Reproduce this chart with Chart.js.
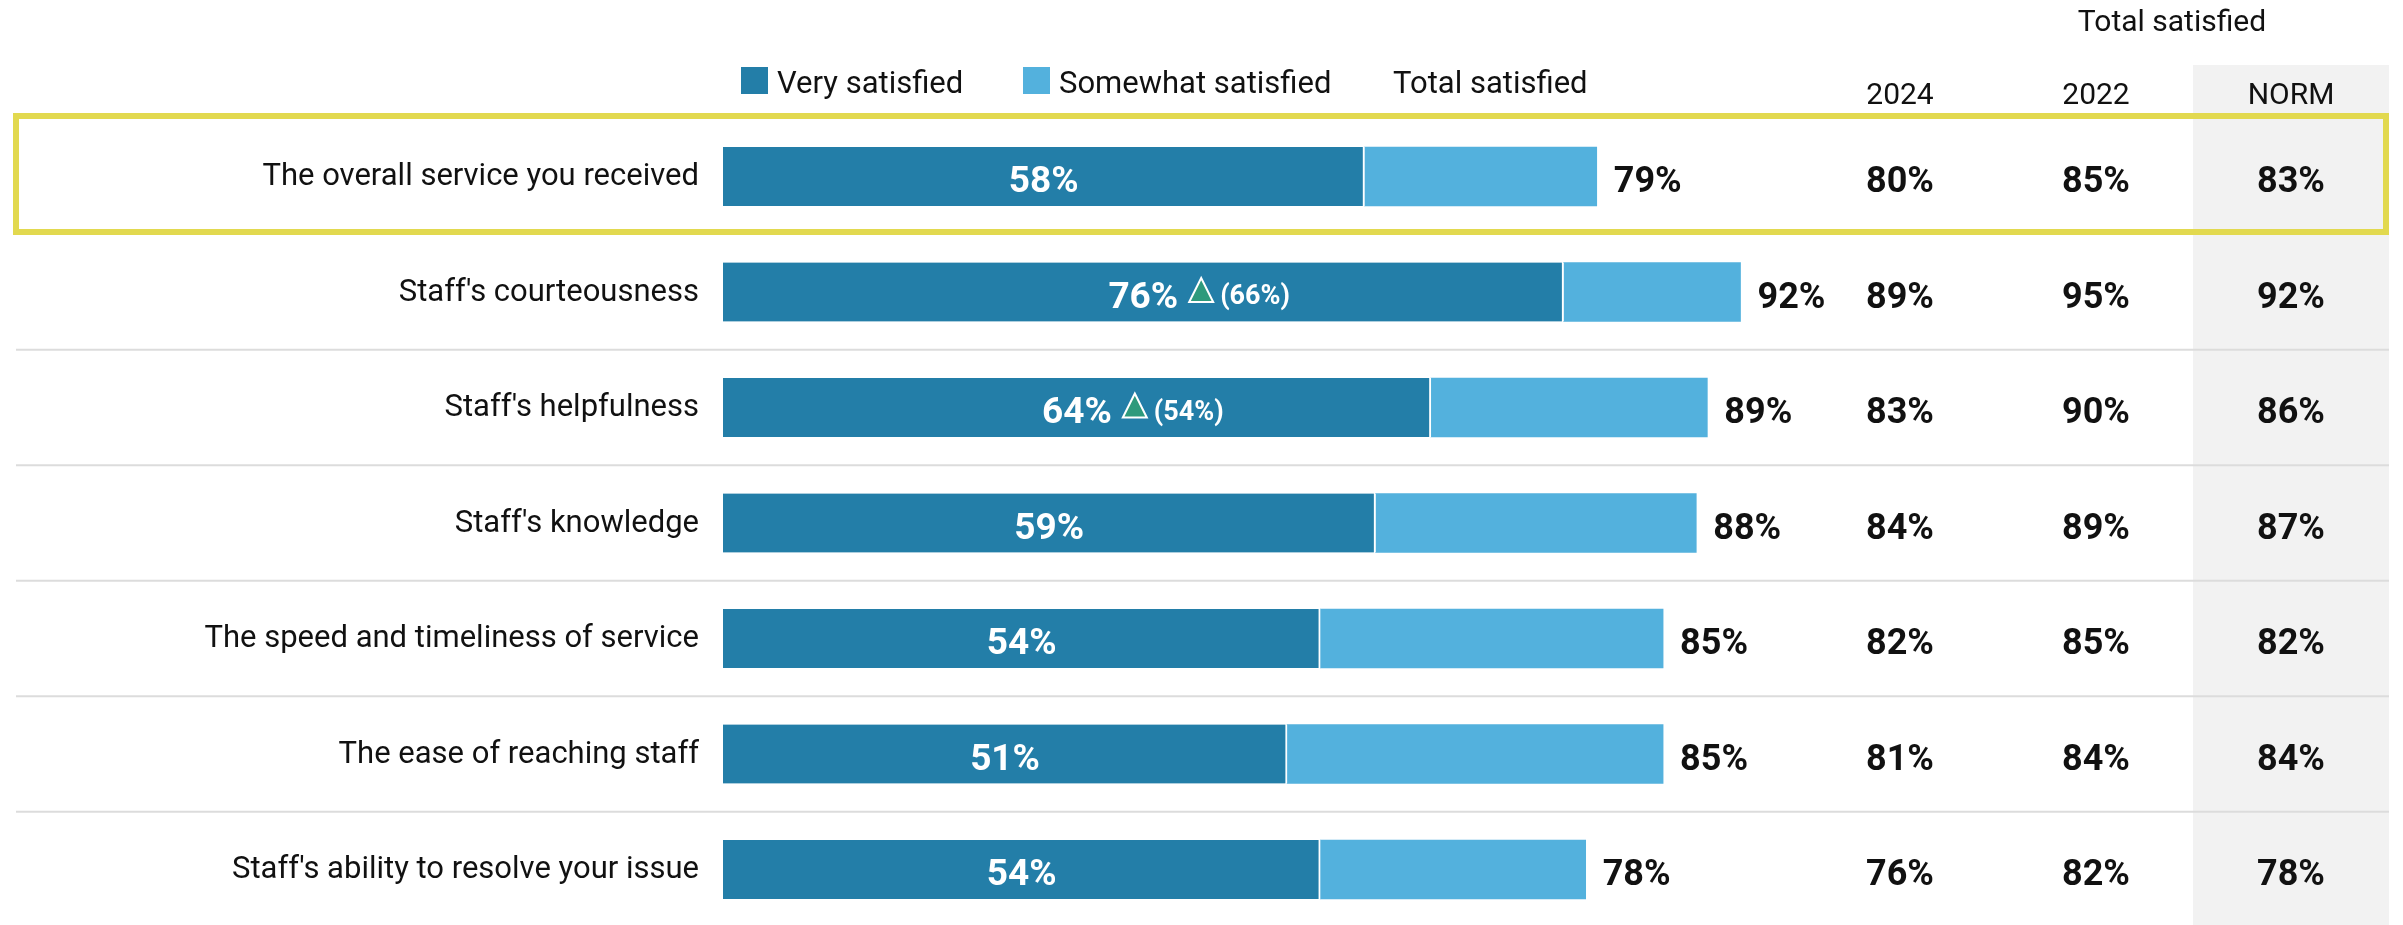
<!DOCTYPE html>
<html>
<head>
<meta charset="utf-8">
<title>Satisfaction with staff service</title>
<script src="https://cdn.jsdelivr.net/npm/chart.js@4/dist/chart.umd.min.js"></script>
<style>
  html, body { margin: 0; padding: 0; background: #fff; }
  #wrap { width: 2403px; height: 925px; position: relative; }
</style>
</head>
<body>
<div id="wrap"><canvas id="satChart"></canvas></div>
<script>
const categories = [
    "The overall service you received",
    "Staff's courteousness",
    "Staff's helpfulness",
    "Staff's knowledge",
    "The speed and timeliness of service",
    "The ease of reaching staff",
    "Staff's ability to resolve your issue"
];
const verySatisfied = [58, 76, 64, 59, 54, 51, 54];
const totalSatisfied = [79, 92, 89, 88, 85, 85, 78];
// earlier wave for the significance marker, only where it applies
const previousVery = [null, 66, 54, null, null, null, null];
const total2024 = [80, 89, 83, 84, 82, 81, 76];
const total2022 = [85, 95, 90, 89, 85, 84, 82];
const normValues = [83, 92, 86, 87, 82, 84, 78];
const columnHeaders = ["2024", "2022", "NORM"];

const somewhatSatisfied = totalSatisfied.map((t, i) => t - verySatisfied[i]);

const DARK = "#237ea8";
const LIGHT = "#53b1dd";
const FONT = "Roboto, 'Noto Sans', sans-serif";

const tablePlugin = {
    id: "tablePlugin",
    beforeDraw(chart) {
        const ctx = chart.ctx;
        const y = chart.scales.y;
        ctx.save();
        // shaded NORM column
        ctx.fillStyle = "#f2f2f2";
        ctx.fillRect(2193, 65, 196, 860);
        // row separators
        ctx.strokeStyle = "#dcdcdc";
        ctx.lineWidth = 2;
        for (let i = 1; i < categories.length - 1; i++) {
            const mid = (y.getPixelForValue(i) + y.getPixelForValue(i + 1)) / 2;
            ctx.beginPath();
            ctx.moveTo(16, mid);
            ctx.lineTo(2389, mid);
            ctx.stroke();
        }
        ctx.restore();
    },
    afterDatasetsDraw(chart) {
        const ctx = chart.ctx;
        const x = chart.scales.x;
        const y = chart.scales.y;
        ctx.save();

        // legend
        ctx.font = "31px " + FONT;
        ctx.textBaseline = "alphabetic";
        ctx.textAlign = "left";
        ctx.fillStyle = DARK;
        ctx.fillRect(741, 67, 27, 27);
        ctx.fillStyle = LIGHT;
        ctx.fillRect(1023, 67, 27, 27);
        ctx.fillStyle = "#111";
        ctx.fillText("Very satisfied", 777, 93);
        ctx.fillText("Somewhat satisfied", 1059, 93);
        ctx.fillText("Total satisfied", 1393, 93);

        // column headers
        const colX = [1900, 2096, 2291];
        ctx.font = "30px " + FONT;
        ctx.textAlign = "center";
        ctx.fillText("Total satisfied", 2172, 31);
        columnHeaders.forEach((h, k) => ctx.fillText(h, colX[k], 104));

        categories.forEach((label, i) => {
            const cy = y.getPixelForValue(i);

            // category label
            ctx.font = "31px " + FONT;
            ctx.fillStyle = "#111";
            ctx.textAlign = "right";
            ctx.fillText(label, 699, cy + 8.5);

            // very satisfied value inside the dark segment
            const darkMid = (x.getPixelForValue(0) + x.getPixelForValue(verySatisfied[i])) / 2;
            ctx.font = "bold 37px " + FONT;
            ctx.fillStyle = "#fff";
            ctx.textAlign = "center";
            const txt = verySatisfied[i] + "%";
            ctx.fillText(txt, darkMid, cy + 15.5);

            if (previousVery[i] !== null) {
                const tw = ctx.measureText(txt).width;
                const tx = darkMid + tw / 2 + 11;
                ctx.beginPath();
                ctx.moveTo(tx + 12, cy - 14);
                ctx.lineTo(tx + 24, cy + 10);
                ctx.lineTo(tx, cy + 10);
                ctx.closePath();
                ctx.fillStyle = "#2e9a7c";
                ctx.fill();
                ctx.strokeStyle = "#fff";
                ctx.lineWidth = 2;
                ctx.stroke();
                ctx.font = "bold 27px " + FONT;
                ctx.fillStyle = "#fff";
                ctx.textAlign = "left";
                ctx.fillText("(" + previousVery[i] + "%)", tx + 31, cy + 12);
            }

            // total at bar end
            ctx.font = "bold 36px " + FONT;
            ctx.fillStyle = "#111";
            ctx.textAlign = "left";
            ctx.fillText(totalSatisfied[i] + "%", x.getPixelForValue(totalSatisfied[i]) + 17, cy + 15.5);

            // trend and norm columns
            ctx.textAlign = "center";
            [total2024, total2022, normValues].forEach((arr, k) => {
                ctx.fillText(arr[i] + "%", colX[k], cy + 15.5);
            });
        });

        // highlight frame around the first row
        const r0 = y.getPixelForValue(0);
        ctx.strokeStyle = "#e2d94f";
        ctx.lineWidth = 6;
        ctx.strokeRect(16, r0 - 60.5, 2370, 116);
        ctx.restore();
    }
};

const ctx = document.getElementById("satChart").getContext("2d");
new Chart(ctx, {
    type: "bar",
    data: {
        labels: categories,
        datasets: [
            {
                label: "Very satisfied",
                data: verySatisfied,
                backgroundColor: DARK,
                borderColor: "#ffffff",
                borderWidth: { top: 0, right: 2, bottom: 0, left: 0 },
                borderSkipped: false,
                barThickness: 59,
                clip: false
            },
            {
                label: "Somewhat satisfied",
                data: somewhatSatisfied,
                backgroundColor: LIGHT,
                borderWidth: 0,
                barThickness: 59,
                clip: false
            }
        ]
    },
    options: {
        indexAxis: "y",
        responsive: true,
        maintainAspectRatio: false,
        animation: false,
        layout: { padding: { left: 723, right: 574, top: 176.5, bottom: 55.5 } },
        scales: {
            x: { display: false, stacked: true, min: 0, max: 100 },
            y: { display: false, stacked: true, offset: false }
        },
        plugins: {
            legend: { display: false },
            tooltip: { enabled: false }
        }
    },
    plugins: [tablePlugin]
});
</script>
</body>
</html>
